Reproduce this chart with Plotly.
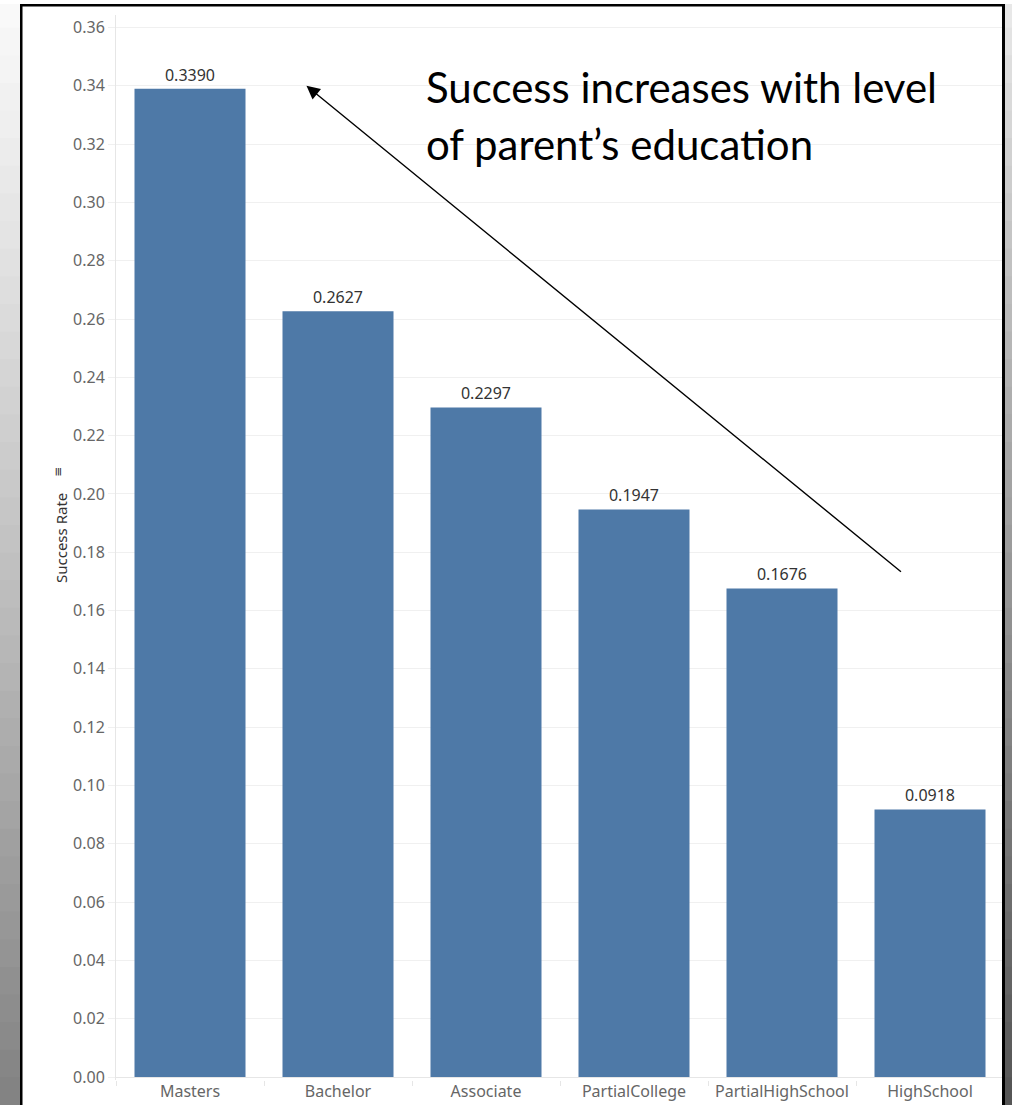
import plotly.graph_objects as go

categories = ["Masters", "Bachelor", "Associate", "PartialCollege", "PartialHighSchool", "HighSchool"]
success_rate = [0.3390, 0.2627, 0.2297, 0.1947, 0.1676, 0.0918]
y_ticks = [round(i * 0.02, 2) for i in range(19)]

W, H = 1012, 1105
ML, MR, MT, MB = 116, 8, 15, 25
PW = W - ML - MR
PH = H - MT - MB

def px(x):
    return (x - ML) / PW

def py(y):
    return 1 - (y - MT) / PH

fig = go.Figure()
fig.add_trace(go.Bar(
    x=categories, y=success_rate, width=0.75,
    marker=dict(color="#4E79A7", line=dict(width=0)),
    text=[f"{v:.4f}" for v in success_rate], textposition="outside",
    textfont=dict(family="Noto Sans", size=16, color="#333333"),
    cliponaxis=False, showlegend=False,
))

shapes = []
# left / right gradient strips
n = 40
for i in range(n):
    y0 = i * H / n
    y1 = (i + 1) * H / n + 1.5
    t = (i + 0.5) / n
    g = int(250 - 120 * (t ** 1.1))
    shapes.append(dict(type="rect", xref="paper", yref="paper",
                       x0=px(-2), x1=px(20.5), y0=py(y1), y1=py(y0),
                       fillcolor=f"rgb({g},{g},{g})", line=dict(width=0), layer="above"))
    g2 = int(235 - 150 * (t ** 0.9))
    shapes.append(dict(type="rect", xref="paper", yref="paper",
                       x0=px(1004.5), x1=px(1014), y0=py(y1), y1=py(y0),
                       fillcolor=f"rgb({g2},{g2},{g2})", line=dict(width=0), layer="above"))
# white top strip
shapes.append(dict(type="rect", xref="paper", yref="paper", x0=px(-2), x1=px(1014),
                   y0=py(4), y1=py(-2), fillcolor="white", line=dict(width=0), layer="above"))
# frame
shapes.append(dict(type="rect", xref="paper", yref="paper", x0=px(20), x1=px(22.5),
                   y0=py(1108), y1=py(4), fillcolor="black", line=dict(width=0), layer="above"))
shapes.append(dict(type="rect", xref="paper", yref="paper", x0=px(20), x1=px(1005),
                   y0=py(6.5), y1=py(4), fillcolor="black", line=dict(width=0), layer="above"))
shapes.append(dict(type="rect", xref="paper", yref="paper", x0=px(1002), x1=px(1005),
                   y0=py(1108), y1=py(4), fillcolor="black", line=dict(width=0), layer="above"))

annotations = [
    dict(xref="paper", yref="paper", x=px(424), y=py(87), xanchor="left", yanchor="middle",
         text="Success increases with level", showarrow=False,
         font=dict(family="Lato", size=42, color="black")),
    dict(xref="paper", yref="paper", x=px(424), y=py(144), xanchor="left", yanchor="middle",
         text="of parent’s education", showarrow=False,
         font=dict(family="Lato", size=42, color="black")),
    dict(x=0.787, y=0.34, ax=4.814, ay=0.1729, xref="x", yref="y", axref="x", ayref="y",
         text="", showarrow=True, arrowhead=2, arrowsize=1.9, arrowwidth=1.4,
         arrowcolor="black"),
    dict(xref="paper", yref="paper", x=px(49), y=py(538), textangle=-90,
         text="Success Rate", showarrow=False,
         font=dict(family="Noto Sans", size=15, color="#333333")),
    dict(xref="paper", yref="paper", x=px(49), y=py(472), textangle=-90,
         text="≡", showarrow=False,
         font=dict(family="DejaVu Sans", size=12, color="#333333")),
]

fig.update_layout(
    width=W, height=H,
    margin=dict(l=ML, r=MR, t=MT, b=MB, autoexpand=False),
    paper_bgcolor="white", plot_bgcolor="white",
    bargap=0.25,
    shapes=shapes, annotations=annotations,
    font=dict(family="Noto Sans", color="#666666"),
)
fig.update_yaxes(
    range=[-0.00103, 0.3643], tickvals=y_ticks, tickformat=".2f",
    showgrid=True, gridcolor="#f0f0f0", gridwidth=1,
    zeroline=True, zerolinecolor="#e6e6e6", zerolinewidth=1,
    showline=True, linecolor="#e6e6e6", linewidth=1,
    ticks="outside", ticklen=7, tickcolor="#f0f0f0", automargin=False,
    tickfont=dict(family="Noto Sans", size=16, color="#666666"),
)
fig.update_xaxes(
    showgrid=False, showline=False, ticks="outside", tickson="boundaries",
    ticklen=5, tickcolor="#e6e6e6", automargin=False,
    tickfont=dict(family="Noto Sans", size=16, color="#666666"),
)

fig.write_html("out.html")
